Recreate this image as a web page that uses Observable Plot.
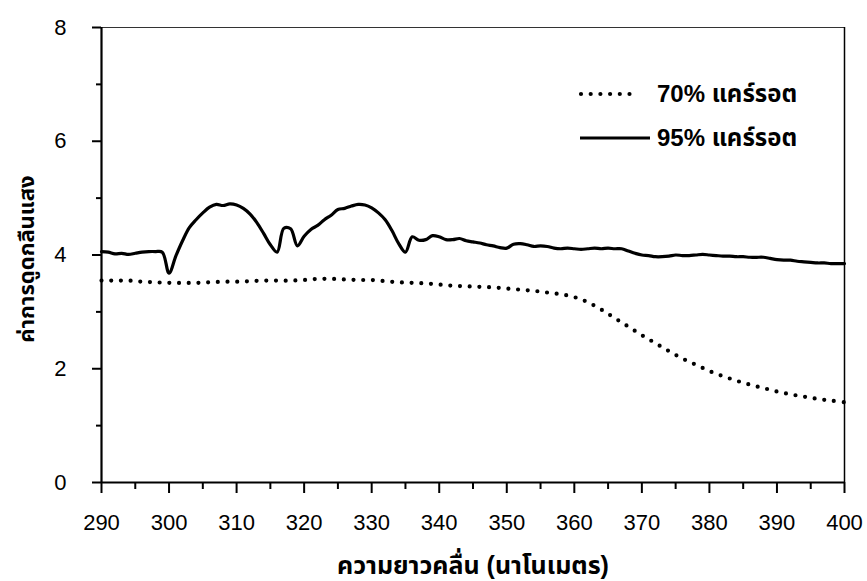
<!DOCTYPE html>
<html><head><meta charset="utf-8">
<script src="https://cdn.jsdelivr.net/npm/d3@7"></script>
<script src="https://cdn.jsdelivr.net/npm/@observablehq/plot@0.6"></script>
<style>
html,body{margin:0;padding:0;background:#fff;}
#wrap{position:relative;width:867px;height:581px;}
#legend{position:absolute;left:0;top:0;pointer-events:none;}
</style></head><body><div id="wrap"></div>
<script>
// 95% carrot (solid line)
const wl95 = [290,291,292,293,294,295,296,297,298,299,300,301,302,303,304,305,306,307,308,309,310,311,312,313,314,315,316,317,318,319,320,321,322,323,324,325,326,327,328,329,330,331,332,333,334,335,336,337,338,339,340,341,342,343,344,345,346,347,348,349,350,351,352,353,354,355,356,357,358,359,360,361,362,363,364,365,366,367,368,369,370,371,372,373,374,375,376,377,378,379,380,381,382,383,384,385,386,387,388,389,390,391,392,393,394,395,396,397,398,399,400];
const abs95 = [4.06,4.05,4.02,4.03,4.01,4.03,4.05,4.06,4.06,4.05,3.68,3.98,4.25,4.48,4.62,4.74,4.84,4.89,4.87,4.90,4.88,4.82,4.72,4.57,4.38,4.18,4.05,4.47,4.46,4.16,4.33,4.45,4.52,4.62,4.70,4.80,4.82,4.86,4.89,4.88,4.83,4.74,4.62,4.43,4.20,4.05,4.32,4.26,4.27,4.34,4.32,4.27,4.27,4.29,4.25,4.23,4.21,4.18,4.16,4.13,4.12,4.19,4.20,4.18,4.15,4.16,4.15,4.12,4.11,4.12,4.11,4.10,4.11,4.12,4.11,4.12,4.11,4.11,4.07,4.03,4.00,3.99,3.97,3.97,3.98,4.00,3.99,3.99,4.00,4.01,4.00,3.99,3.98,3.98,3.97,3.97,3.96,3.96,3.96,3.94,3.92,3.91,3.91,3.89,3.88,3.87,3.86,3.86,3.85,3.85,3.85];
// 70% carrot (dotted line)
const wl70 = [290,292,294,296,298,300,302,304,306,308,310,312,314,316,318,320,322,324,326,328,330,332,334,336,338,340,342,344,346,348,350,352,354,356,358,360,362,364,366,368,370,372,374,376,378,380,382,384,386,388,390,392,394,396,398,400];
const abs70 = [3.55,3.55,3.55,3.53,3.52,3.51,3.51,3.51,3.52,3.53,3.53,3.54,3.55,3.55,3.55,3.56,3.58,3.58,3.57,3.56,3.56,3.54,3.52,3.51,3.50,3.48,3.46,3.45,3.44,3.43,3.41,3.39,3.37,3.34,3.31,3.26,3.17,3.04,2.89,2.74,2.59,2.45,2.31,2.18,2.07,1.96,1.87,1.79,1.72,1.66,1.60,1.55,1.51,1.47,1.44,1.41];

const seriesNames = ["70% แคร์รอต", "95% แคร์รอต"];
const xTicks = [290,300,310,320,330,340,350,360,370,380,390,400];
const xMinor = [295,305,315,325,335,345,355,365,375,385,395];
const yTicks = [0,2,4,6,8];
const yMinor = [1,3,5,7];
const xTitle = "ความยาวคลื่น (นาโนเมตร)";
const yTitle = "ค่าการดูดกลืนแสง";

const d95 = wl95.map((x, i) => ({x, y: abs95[i]}));
const d70 = wl70.map((x, i) => ({x, y: abs70[i]}));

const FONT = "'Liberation Sans','Noto Sans Thai','Noto Sans',sans-serif";

const chart = Plot.plot({
  width: 867, height: 581,
  marginLeft: 101, marginRight: 23, marginTop: 27, marginBottom: 99,
  style: {fontFamily: FONT, fontSize: "22px", color: "#000", background: "#fff", overflow: "visible"},
  x: {domain: [290, 400]},
  y: {domain: [0, 8]},
  marks: [
    Plot.ruleY([8], {stroke: "#333", strokeWidth: 1.2}),
    Plot.ruleX([400], {stroke: "#000", strokeWidth: 1.5}),
    Plot.line(d70, {x: "x", y: "y", curve: "catmull-rom", stroke: "#000", strokeWidth: 4.2, strokeDasharray: "0 9.7", strokeLinecap: "round"}),
    Plot.line(d95, {x: "x", y: "y", curve: "catmull-rom", stroke: "#000", strokeWidth: 3.2}),
    Plot.axisX({ticks: xTicks, tickSize: 11, tickPadding: 21, tickFormat: d => String(d), label: null, strokeWidth: 2, fontSize: 22}),
    Plot.axisX({ticks: xMinor, tickSize: 7, text: null, label: null, strokeWidth: 2}),
    Plot.axisY({ticks: yTicks, tickSize: 9, tickPadding: 26, tickFormat: d => String(d), label: null, strokeWidth: 2, fontSize: 22}),
    Plot.axisY({ticks: yMinor, tickSize: 5, text: null, label: null, strokeWidth: 2}),
    Plot.ruleX([290], {stroke: "#000", strokeWidth: 2.2}),
    Plot.ruleY([0], {stroke: "#000", strokeWidth: 2.2}),
    Plot.text([xTitle], {frameAnchor: "bottom", dy: 83, text: d => d, fontSize: 25, fontWeight: "bold", textAnchor: "middle", lineAnchor: "middle"}),
    Plot.text([yTitle], {frameAnchor: "left", dx: -75, dy: 4, rotate: -90, text: d => d, fontSize: 22, fontWeight: "bold", textAnchor: "middle", lineAnchor: "middle"})
  ]
});
document.getElementById("wrap").appendChild(chart);

// legend overlay
const leg = d3.select("#wrap").append("svg").attr("id", "legend").attr("width", 867).attr("height", 581);
const rows = [
  {name: seriesNames[0], y: 94, dash: "0 9.7", sw: 4.2, x1: 581, x2: 639},
  {name: seriesNames[1], y: 138, dash: null, sw: 3.2, x1: 580, x2: 650}
];
rows.forEach(r => {
  leg.append("line").attr("x1", r.x1).attr("x2", r.x2).attr("y1", r.y).attr("y2", r.y)
    .attr("stroke", "#000").attr("stroke-width", r.sw).attr("stroke-linecap", r.dash ? "round" : "butt")
    .attr("stroke-dasharray", r.dash);
  leg.append("text").attr("x", 657).attr("y", r.y).attr("dy", "0.35em")
    .attr("font-family", FONT).attr("font-size", 24).attr("font-weight", "bold").attr("fill", "#000")
    .text(r.name);
});
</script></body></html>
